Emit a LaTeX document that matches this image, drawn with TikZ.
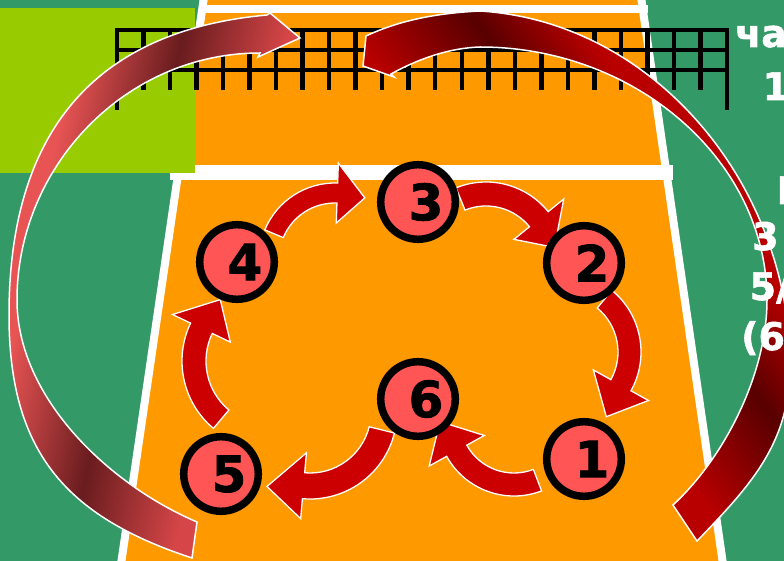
\documentclass[tikz,border=0pt]{standalone}
\usepackage{fontspec}
\setmainfont{DejaVu Sans}[BoldFont={DejaVu Sans Bold},BoldFeatures={FakeBold=1.5}]
\definecolor{vbgreen}{RGB}{51,153,102}
\definecolor{vblime}{RGB}{153,204,0}
\definecolor{vborange}{RGB}{255,153,0}
\definecolor{vbpink}{RGB}{255,85,85}
\definecolor{vbred}{RGB}{204,0,0}
\definecolor{vblight}{RGB}{232,84,84}
\definecolor{vbrose}{RGB}{214,70,72}
\definecolor{vbdark}{RGB}{105,28,30}
\definecolor{vbwine}{RGB}{184,0,0}
\definecolor{vbdeep}{RGB}{88,0,0}
\pgfdeclarehorizontalshading{leftsweep}{100bp}{color(0bp)=(vblight); color(40bp)=(vblight);
  color(47.9bp)=(vbdark); color(56bp)=(vbrose); color(100bp)=(vbrose)}
\pgfdeclarehorizontalshading{rightsweep}{100bp}{color(0bp)=(vbwine); color(47.6bp)=(vbwine);
  color(55.2bp)=(vbdeep); color(61bp)=(vbwine); color(100bp)=(vbwine)}
\newcommand{\turnarrow}[7]{%
  \filldraw[turn] ([shift={(#1)}]#4:#3) arc[start angle=#4,end angle=#5,radius=#3]
    -- ([shift={(#1)}]#5:{#3+20}) -- ([shift={(#1)}]#6:#7)
    -- ([shift={(#1)}]#5:{#2-20}) -- ([shift={(#1)}]#5:#2)
    arc[start angle=#5,end angle=#4,radius=#2] -- cycle;}

\begin{document}
\begin{tikzpicture}[x=1pt,y=-1pt,
  pad/.style={circle,draw=black,line width=7.5pt,fill=vbpink,minimum size=74.6pt,inner sep=0pt},
  num/.style={inner sep=0pt,font=\fontsize{50}{50}\selectfont\bfseries},
  side/.style={inner sep=0pt,anchor=base west,text=white,font=\fontsize{38}{38}\selectfont\bfseries},
  turn/.style={fill=vbred,draw=white,line width=1.3pt},
  sweep/.style={draw=white,line width=1.5pt},
  netline/.style={line width=4.5pt}]
  \useasboundingbox (0,0) rectangle (784,561);
  \fill[vbgreen] (0,0) rectangle (784,561);
  \fill[vborange] (204,0) -- (641,0) -- (723,561) -- (121,561) -- cycle;
  \draw[white,line width=8pt] (205,-10) -- (120,571) (640,-10) -- (724,571);
  \fill[white] (200,5) rectangle (648,13);
  \fill[white] (170,165) rectangle (673,180);
  \fill[vblime] (0,8) rectangle (195,173);
  \foreach \k in {0,...,23}
    \draw[netline] ({117+26.52*\k},30) -- ({117+26.52*\k},90);
  \draw[netline] (117,30) -- (117,110) (727,30) -- (727,110);
  \foreach \y in {30,50,70}
    \draw[netline] (115,\y) -- (729,\y);
  \draw[sweep,path picture={\shade[shading=leftsweep,shading angle=-12.4] (-165,-35) rectangle (475,605);}]
    (192,558) .. controls (64,516) and (9,450) .. (9,315)
    .. controls (9,137) and (90,31) .. (267,15) -- (270,13) -- (300,38) -- (258,57) -- (260,53)
    .. controls (126,53) and (17,166) .. (17,300)
    .. controls (17,397) and (108,484) .. (197,522) -- cycle;
  \draw[sweep,path picture={\shade[shading=rightsweep,shading angle=36.9] (226,-74) rectangle (926,626);}]
    (697,541) .. controls (751,485) and (790,443) .. (790,365)
    .. controls (790,188) and (657,22) .. (480,11)
    .. controls (438,13) and (400,20) .. (366,36) -- (363,66) -- (394,77) -- (391,74)
    .. controls (420,58) and (450,48) .. (480,47)
    .. controls (635,47) and (767,160) .. (767,300)
    .. controls (767,372) and (726,456) .. (673,505) -- cycle;
  \coordinate (C43) at (335,259);
  \coordinate (C32) at (486,262);
  \coordinate (C21) at (561,352);
  \coordinate (C16) at (514,419);
  \coordinate (C65) at (310,412);
  \coordinate (C54) at (270,361);
  \turnarrow{C43}{56}{76}{202.5}{272}{296}{68}
  \turnarrow{C32}{56}{80}{248}{321}{348}{70}
  \turnarrow{C21}{57}{80}{-50.5}{29}{55}{79}
  \turnarrow{C16}{54}{77}{69}{151}{178}{74}
  \turnarrow{C65}{61}{87}{14}{95}{120}{86}
  \turnarrow{C54}{64}{88}{130}{205.5}{231}{79}
  \foreach \n/\x/\y in {1/584/459,2/584/263,3/418/202,4/237/262,5/221/474,6/418/399}{
    \node[pad] (P\n) at (\x,\y) {};
    \node[num] (D\n) at ([xshift=8pt]P\n) {\n};
  }
  \node[side] (T1) at (735,47) {ча};
  \node[side] (T2) at (762.5,100) {1};
  \node[side] (T3) at (776.5,204) {Н};
  \node[side] (T4) at (752,250) {3};
  \node[side] (T5) at (749.5,300) {5/};
  \node[side] (T6) at (741,350) {(6};
\end{tikzpicture}
\end{document}
